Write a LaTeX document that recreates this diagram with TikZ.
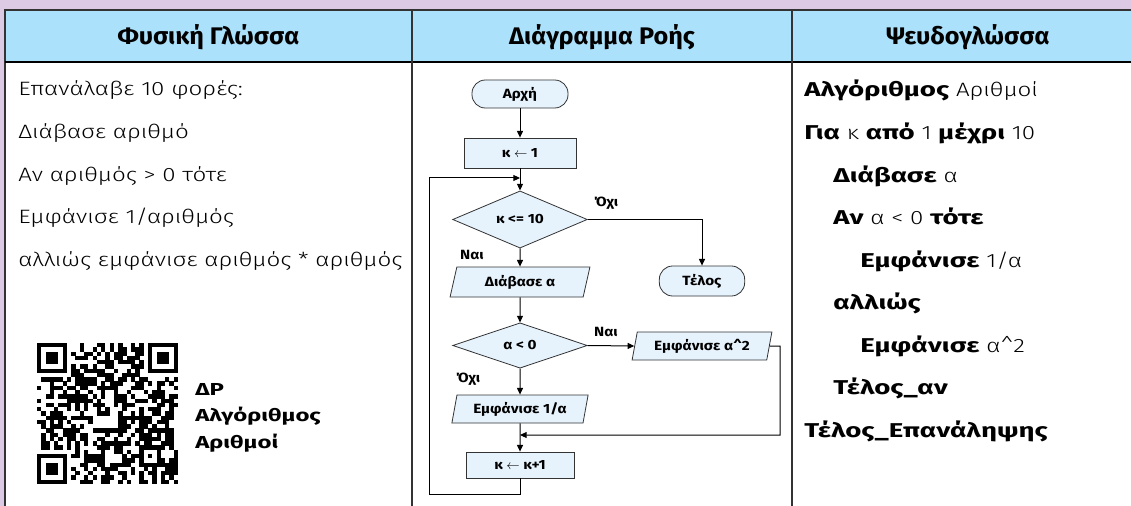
\documentclass[tikz,border=0pt]{standalone}
\usepackage{fontspec}
\setmainfont{Fira Sans}
\newfontfamily\lightf{Fira Sans Light}[FakeStretch=1.25]
\newfontfamily\hdrf{Fira Sans}[FakeStretch=1.05]
\newfontfamily\kwf{Fira Sans}[FakeStretch=1.38]
\newfontfamily\chartf{Fira Sans}[FakeStretch=1.15]
\usetikzlibrary{shapes.geometric,arrows.meta}
\definecolor{bgpurple}{HTML}{DCC9E4}
\definecolor{hdrblue}{HTML}{ABE1FA}
\definecolor{shapefill}{HTML}{E6F3FD}
\definecolor{linegray}{HTML}{333333}
\newcommand\pkw[1]{{\kwf\bfseries\fontsize{15}{17}\selectfont #1}}
\begin{document}
\begin{tikzpicture}[x=0.75pt,y=-0.75pt,
  tableline/.style={draw=linegray,line width=1.2pt},
  hdr/.style={anchor=base,inner sep=0,font=\hdrf\bfseries\fontsize{18}{20}\selectfont},
  plain/.style={anchor=base west,inner sep=0,font=\lightf\fontsize{14.5}{16}\selectfont},
  qrtext/.style={anchor=base west,inner sep=0,font=\kwf\bfseries\fontsize{13}{15}\selectfont},
  fbox/.style={draw=linegray,fill=shapefill,line width=0.6pt,inner sep=0,font=\chartf\bfseries\fontsize{10}{12}\selectfont},
  term/.style={fbox,rectangle,rounded corners=10pt},
  procbox/.style={fbox,rectangle},
  decision/.style={fbox,diamond,minimum width=101pt,minimum height=34pt},
  io/.style={fbox,trapezium,trapezium left angle=75,trapezium right angle=105,trapezium stretches=true},
  flow/.style={draw=black,line width=0.75pt},
  arr/.style={flow,-{Triangle[length=5pt,width=4.5pt]}},
  lbl/.style={inner sep=0,font=\chartf\bfseries\fontsize{10}{12}\selectfont},
]
\useasboundingbox (0,0) rectangle (1131,506);
% background and table
\fill[bgpurple] (0,0) rectangle (1131,506);
\fill[hdrblue] (5,10) rectangle (1131,62);
\fill[white] (5,62) rectangle (1131,506);
\draw[tableline] (5,506) -- (5,10) -- (1131,10);
\draw[tableline,draw=black] (5,62) -- (1131,62);
\draw[tableline] (412,10) -- (412,506);
\draw[tableline] (792,10) -- (792,506);
% headers
\node[hdr] (h1) at (208.5,45) {Φυσική Γλώσσα};
\node[hdr] (h2) at (602,45) {Διάγραμμα Ροής};
\node[hdr] (h3) at (968,45) {Ψευδογλώσσα};
% column 1
\node[plain] (n1) at (18,96) {Επανάλαβε 10 φορές:};
\node[plain] (n2) at (18,138.5) {Διάβασε αριθμό};
\node[plain] (n3) at (18,181) {Αν αριθμός > 0 τότε};
\node[plain] (n4) at (18,223.5) {Εμφάνισε 1/αριθμός};
\node[plain] (n5) at (18,266) {αλλιώς εμφάνισε αριθμός * αριθμός};
% QR-like code
\def\qrm{4.27}
\pgfmathsetseed{12345}
\foreach \i in {0,...,32}{
  \foreach \j in {0,...,32}{
    \pgfmathtruncatemacro\qrf{(rnd<0.5)*(1-(\i<8)*(\j<8))*(1-(\i>24)*(\j<8))*(1-(\i<8)*(\j>24))*(1-(\i>23)*(\i<29)*(\j>23)*(\j<29))}
    \ifnum\qrf=1
      \fill (37+\i*\qrm,343+\j*\qrm) rectangle ++(\qrm+0.1,\qrm+0.1);
    \fi
  }
}
\foreach \fx/\fy in {0/0,26/0,0/26}{
  \fill (37+\fx*\qrm,343+\fy*\qrm) rectangle ++(7*\qrm,7*\qrm);
  \fill[white] (37+\fx*\qrm+\qrm,343+\fy*\qrm+\qrm) rectangle ++(5*\qrm,5*\qrm);
  \fill (37+\fx*\qrm+2*\qrm,343+\fy*\qrm+2*\qrm) rectangle ++(3*\qrm,3*\qrm);
}
\fill (37+24*\qrm,343+24*\qrm) rectangle ++(5*\qrm,5*\qrm);
\fill[white] (37+25*\qrm,343+25*\qrm) rectangle ++(3*\qrm,3*\qrm);
\fill (37+26*\qrm,343+26*\qrm) rectangle ++(\qrm,\qrm);
\node[qrtext] (q1) at (195,395) {ΔΡ};
\node[qrtext] (q2) at (195,421) {Αλγόριθμος};
\node[qrtext] (q3) at (195,448) {Αριθμοί};
% flowchart
\node[term,minimum width=72pt,minimum height=21pt] (start) at (520,94) {Αρχή};
\node[procbox,minimum width=84pt,minimum height=22.5pt] (init) at (520,153) {κ $\leftarrow$ 1};
\node[decision] (cond1) at (520,219.5) {κ <= 10};
\node[term,minimum width=64pt,minimum height=22.5pt] (stop) at (702,281) {Τέλος};
\node[io,minimum width=105pt,minimum height=22.5pt] (readA) at (520,282) {Διάβασε α};
\node[decision] (cond2) at (520,345.5) {α < 0};
\node[io,minimum width=105pt,minimum height=21pt] (outSq) at (702,346) {Εμφάνισε α\textasciicircum 2};
\node[io,minimum width=103pt,minimum height=21pt] (outInv) at (520,409) {Εμφάνισε 1/α};
\node[procbox,minimum width=81pt,minimum height=19.5pt] (inc) at (520,465) {κ $\leftarrow$ κ+1};
\coordinate (loopB) at (520,494);
\coordinate (loopL) at (429,494);
\coordinate (loopT) at (429,178);
\coordinate (loopIn) at (520,178);
\coordinate (rr1) at (780,346);
\coordinate (rr2) at (780,435);
\coordinate (merge) at (520,435);
\draw[arr] (start) -- (init);
\draw[arr] (init) -- (cond1);
\draw[arr] (cond1.east) -| (stop.north);
\draw[arr] (cond1) -- (readA);
\draw[arr] (readA) -- (cond2);
\draw[arr] (cond2.east) -- (outSq.west);
\draw[arr] (cond2) -- (outInv);
\draw[arr] (outInv) -- (inc);
\draw[arr] (outSq.east) -- (rr1) -- (rr2) -- (merge);
\draw[arr] (inc.south) -- (loopB) -- (loopL) -- (loopT) -- (loopIn);
\node[lbl] (no1) at (606,203) {Όχι};
\node[lbl] (yes1) at (472,255) {Ναι};
\node[lbl] (yes2) at (606,332) {Ναι};
\node[lbl] (no2) at (468,379) {Όχι};
% column 3
\node[plain] (p1) at (804,97) {\pkw{Αλγόριθμος} Αριθμοί};
\node[plain] (p2) at (804,139.5) {\pkw{Για} κ \pkw{από} 1 \pkw{μέχρι} 10};
\node[plain] (p3) at (833,182) {\pkw{Διάβασε} α};
\node[plain] (p4) at (833,224.5) {\pkw{Αν} α < 0 \pkw{τότε}};
\node[plain] (p5) at (860,267) {\pkw{Εμφάνισε} 1/α};
\node[plain] (p6) at (833,309.5) {\pkw{αλλιώς}};
\node[plain] (p7) at (860,352) {\pkw{Εμφάνισε} α\textasciicircum 2};
\node[plain] (p8) at (833,394.5) {\pkw{Τέλος\_αν}};
\node[plain] (p9) at (804,437) {\pkw{Τέλος\_Επανάληψης}};
\end{tikzpicture}
\end{document}
